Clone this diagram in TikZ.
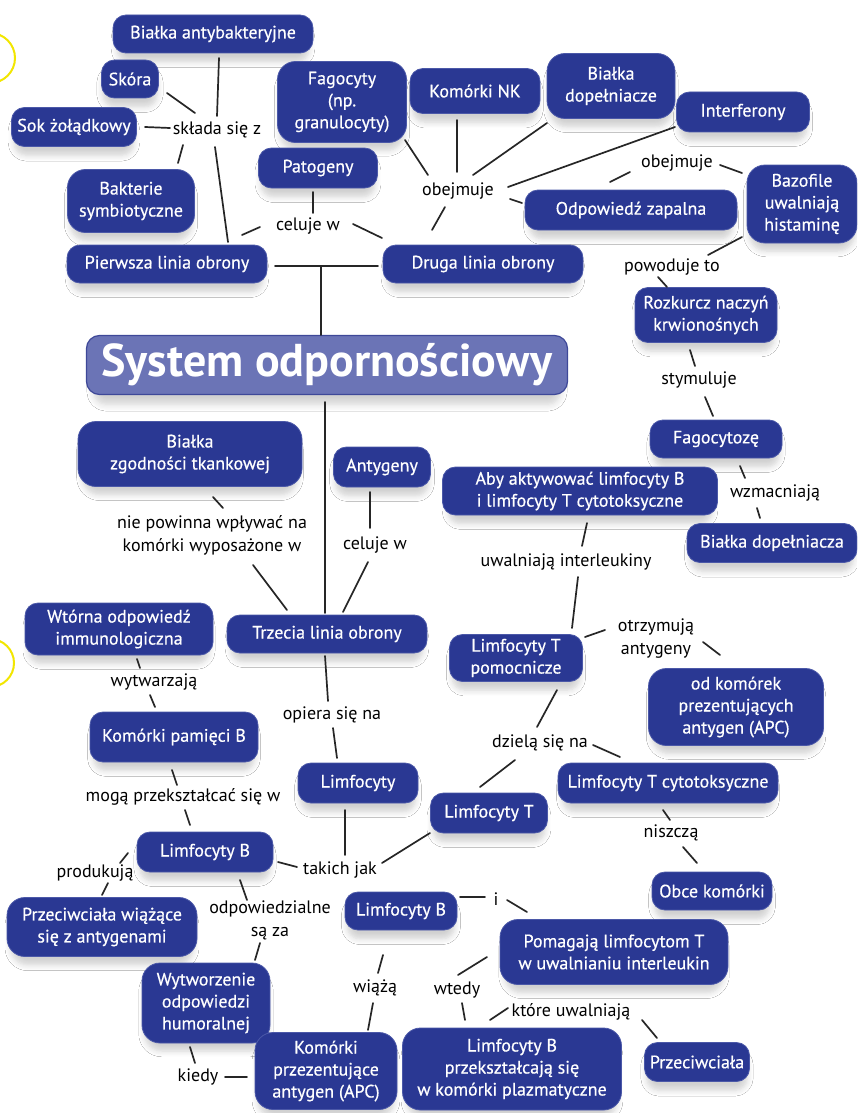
\documentclass[tikz,border=0pt]{standalone}
\usepackage{fontspec}
\setmainfont{PT Sans}
\newfontfamily\boxfont[BoldFont={PT Sans},BoldFeatures={FakeBold=0.5}]{PT Sans}
\usetikzlibrary{shadows.blur,calc}
\definecolor{navy}{HTML}{2A3893}
\definecolor{navyedge}{HTML}{4B58A8}
\definecolor{titlefill}{HTML}{6B74B6}
\definecolor{titleedge}{HTML}{3E4898}
\definecolor{conncol}{HTML}{262626}
\definecolor{ringcol}{HTML}{F2E600}
\newcommand\mkbox[7][]{\node[box,#1, minimum width=#5, minimum height=#6] (#2) at (#3,#4) {#7};}
\newcommand\mklbl[4]{\node[lbl] (#1) at (#2,#3) {#4};}
\newcommand\lnk[4]{\draw[conn] ([shift={(#2)}]#1.center) -- ([shift={(#4)}]#3.center);}
\begin{document}
\begin{tikzpicture}[x=1pt,y=-1pt,
  box/.style={rounded corners=13pt, fill=navy, draw=navyedge, line width=0.8pt, text=white, align=center, inner sep=2pt, font=\boxfont\bfseries\fontsize{18}{22}\selectfont,
    blur shadow={shadow xshift=0pt, shadow yshift=-10pt, shadow scale=0.96, shadow blur radius=6pt, shadow opacity=18, shadow blur steps=6}},
  tall/.style={rounded corners=18pt},
  titlebox/.style={rounded corners=13pt, fill=titlefill, draw=titleedge, line width=1.2pt, text=white, inner sep=2pt, font=\fontsize{46}{50}\selectfont\bfseries,
    blur shadow={shadow xshift=0pt, shadow yshift=-11pt, shadow scale=0.97, shadow blur radius=7pt, shadow opacity=18, shadow blur steps=6}},
  lbl/.style={text=black, align=center, inner sep=1pt, font=\fontsize{18}{23}\selectfont},
  conn/.style={draw=conncol, line width=1.7pt, line cap=round},
  ring/.style={draw=ringcol, line width=2pt}]
\useasboundingbox (0,0) rectangle (857,1113);
\clip (0,0) rectangle (857,1113);
\fill[white] (0,0) rectangle (857,1113);
\draw[ring] (-10,58) circle [radius=25pt];
\draw[ring] (-10,663) circle [radius=24pt];
% boxes
\mkbox{bab}{213}{34}{200}{38}{Białka antybakteryjne}
\mkbox{skora}{130}{79}{57}{38}{Skóra}
\mkbox{sok}{74}{127}{125}{39}{Sok żołądkowy}
\mkbox[tall]{bak}{131}{201}{127}{63}{Bakterie\\symbiotyczne}
\mkbox{pierwsza}{167}{264}{200}{38}{Pierwsza linia obrony}
\mkbox[tall]{fag}{342}{102}{129}{81}{Fagocyty\\(np.\\granulocyty)}
\mkbox{pat}{318}{168}{119}{40}{Patogeny}
\mkbox{nk}{475}{91}{130}{45}{Komórki NK}
\mkbox[tall]{bdop}{611}{86}{128}{65}{Białka\\dopełniacze}
\mkbox{inter}{743}{112}{133}{40}{Interferony}
\mkbox{odp}{631}{210}{212}{40}{Odpowiedź zapalna}
\mkbox[tall]{baz}{802}{204}{110}{78}{Bazofile\\uwalniają\\histaminę}
\mkbox{druga}{483}{264}{200}{38}{Druga linia obrony}
\mkbox{rozk}{706}{315}{142}{55}{Rozkurcz naczyń\\krwionośnych}
\node[titlebox, minimum width=481, minimum height=59] (title) at (327,365) {System odpornościowy};
\mkbox[tall]{bzt}{190}{454}{224}{65}{Białka\\zgodności tkankowej}
\mkbox{antyg}{382}{467}{97}{40}{Antygeny}
\mkbox{fagoz}{716}{439}{132}{38}{Fagocytozę}
\mkbox{aby}{580}{491}{275}{48}{Aby aktywować limfocyty B\\i limfocyty T cytotoksyczne}
\mkbox{bdop2}{772}{543}{170}{39}{Białka dopełniacza}
\mkbox{wtorna}{119}{629}{188}{52}{Wtórna odpowiedź\\immunologiczna}
\mkbox{trzecia}{327}{634}{200}{38}{Trzecia linia obrony}
\mkbox{ltp}{516}{658}{133}{47}{Limfocyty T\\pomocnicze}
\mkbox[tall]{apc1}{736}{707}{175}{77}{od komórek\\prezentujących\\antygen (APC)}
\mkbox{kpb}{174}{737}{168}{50}{Komórki pamięci B}
\mkbox{limf}{358}{783}{120}{40}{Limfocyty}
\mkbox{ltc}{668}{783}{220}{40}{Limfocyty T cytotoksyczne}
\mkbox{lt}{489}{813}{117}{40}{Limfocyty T}
\mkbox{lb1}{205}{852}{136}{40}{Limfocyty B}
\mkbox{obce}{712}{891}{120}{38}{Obce komórki}
\mkbox{lb2}{401}{911}{112}{38}{Limfocyty B}
\mkbox[tall]{przc1}{102}{927}{190}{59}{Przeciwciała wiążące\\się z antygenami}
\mkbox[tall]{pom}{614}{952}{228}{65}{Pomagają limfocytom T\\w uwalnianiu interleukin}
\mkbox[tall]{wyt}{206}{1003}{128}{80}{Wytworzenie\\odpowiedzi\\humoralnej}
\mkbox[tall]{apc2}{326}{1071}{142}{77}{Komórki\\przezentujące\\antygen (APC)}
\mkbox[tall]{lbp}{512}{1069}{219}{82}{Limfocyty B\\przekształcają się\\w komórki plazmatyczne}
\mkbox{przc2}{697}{1062}{105}{39}{Przeciwciała}
% labels
\mklbl{l1}{217}{130}{składa się z}
\mklbl{l2}{308}{226}{celuje w}
\mklbl{l3}{458}{191}{obejmuje}
\mklbl{l4}{677}{163}{obejmuje}
\mklbl{l5}{672}{267}{powoduje to}
\mklbl{l6}{699}{380}{stymuluje}
\mklbl{l7}{775}{493}{wzmacniają}
\mklbl{l8}{212}{535}{nie powinna wpływać na\\komórki wyposażone w}
\mklbl{l9}{375}{545}{celuje w}
\mklbl{l10}{566}{562}{uwalniają interleukiny}
\mklbl{l11}{656}{639}{otrzymują\\antygeny}
\mklbl{l12}{154}{682}{wytwarzają}
\mklbl{l13}{332}{715}{opiera się na}
\mklbl{l14}{540}{743}{dzielą się na}
\mklbl{l15}{183}{797}{mogą przekształcać się w}
\mklbl{l16}{671}{833}{niszczą}
\mklbl{l17}{340}{870}{takich jak}
\mklbl{l18}{95}{873}{produkują}
\mklbl{l19}{496}{899}{i}
\mklbl{l20}{270}{920}{odpowiedzialne\\są za}
\mklbl{l21}{375}{988}{wiążą}
\mklbl{l22}{457}{990}{wtedy}
\mklbl{l23}{571}{1012}{które uwalniają}
\mklbl{l24}{198}{1077}{kiedy}
\coordinate (j1) at (321,266);
% connectors
\lnk{skora}{37,14}{l1}{-22,-17}
\lnk{sok}{71,0}{l1}{-47,-2}
\lnk{bak}{47,-38}{l1}{-34,15}
\lnk{bab}{6,24}{l1}{0,-14}
\lnk{l1}{-2,17}{pierwsza}{61,-22}
\lnk{pat}{-5,24}{l2}{5,-13}
\lnk{l2}{-48,1}{pierwsza}{75,-29}
\lnk{l2}{45,-2}{druga}{-101,-26}
\lnk{pierwsza}{108,2}{druga}{-105,2}
\lnk{j1}{0,0}{title}{-6,-30}
\lnk{fag}{63,38}{l3}{-30,-16}
\lnk{nk}{-18,29}{l3}{-1,-19}
\lnk{bdop}{-64,37}{l3}{15,-16}
\lnk{inter}{-68,15}{l3}{50,-4}
\lnk{l3}{52,8}{odp}{-109,-7}
\lnk{l3}{-13,16}{druga}{-51,-34}
\lnk{l4}{-47,9}{odp}{-21,-28}
\lnk{l4}{43,2}{baz}{-60,-31}
\lnk{baz}{-60,33}{l5}{36,-12}
\lnk{l5}{-14,10}{rozk}{-39,-28}
\lnk{rozk}{-16,35}{l6}{-4,-14}
\lnk{l6}{6,17}{fagoz}{-3,-23}
\lnk{fagoz}{24,27}{l7}{-30,-15}
\lnk{l7}{-18,15}{bdop2}{-12,-25}
\lnk{title}{-2,37}{trzecia}{-2,-21}
\lnk{bzt}{23,43}{l8}{11,-27}
\lnk{l8}{41,30}{trzecia}{-40,-24}
\lnk{antyg}{-12,25}{l9}{-5,-17}
\lnk{l9}{-7,17}{trzecia}{16,-22}
\lnk{aby}{7,32}{l10}{16,-16}
\lnk{l10}{12,15}{ltp}{56,-30}
\lnk{ltp}{69,-21}{l11}{-51,-9}
\lnk{l11}{47,3}{apc1}{-16,-52}
\lnk{wtorna}{18,30}{l12}{-14,-14}
\lnk{l12}{-4,13}{kpb}{-19,-30}
\lnk{trzecia}{-2,22}{l13}{-4,-14}
\lnk{l13}{1,13}{limf}{-21,-25}
\lnk{kpb}{-2,33}{l15}{-6,-12}
\lnk{l15}{2,13}{lb1}{-15,-27}
\lnk{lb1}{-77,1}{l18}{25,-10}
\lnk{l18}{13,10}{przc1}{0,-32}
\lnk{lb1}{73,10}{l17}{-43,-3}
\lnk{limf}{-13,27}{l17}{5,-15}
\lnk{l17}{42,-7}{lt}{-59,20}
\lnk{lb1}{35,28}{l20}{-23,-20}
\lnk{l20}{-10,23}{wyt}{49,-43}
\lnk{wyt}{-16,44}{l24}{-3,-14}
\lnk{l24}{27,0}{apc2}{-79,6}
\lnk{ltp}{41,32}{l14}{-3,-16}
\lnk{l14}{53,2}{ltc}{-48,-26}
\lnk{l14}{-25,17}{lt}{-9,-26}
\lnk{ltc}{-5,27}{l16}{-1,-13}
\lnk{l16}{12,14}{obce}{-15,-28}
\lnk{lb2}{59,-14}{l19}{-11,-2}
\lnk{l19}{11,1}{pom}{-87,-40}
\lnk{lb2}{-18,44}{l21}{3,-15}
\lnk{l21}{-2,15}{apc2}{42,-41}
\lnk{pom}{-127,5}{l22}{1,-15}
\lnk{l22}{5,13}{lbp}{-47,-49}
\lnk{lbp}{-22,-49}{l23}{-63,-4}
\lnk{l23}{71,8}{przc2}{-40,-24}
\end{tikzpicture}
\end{document}
